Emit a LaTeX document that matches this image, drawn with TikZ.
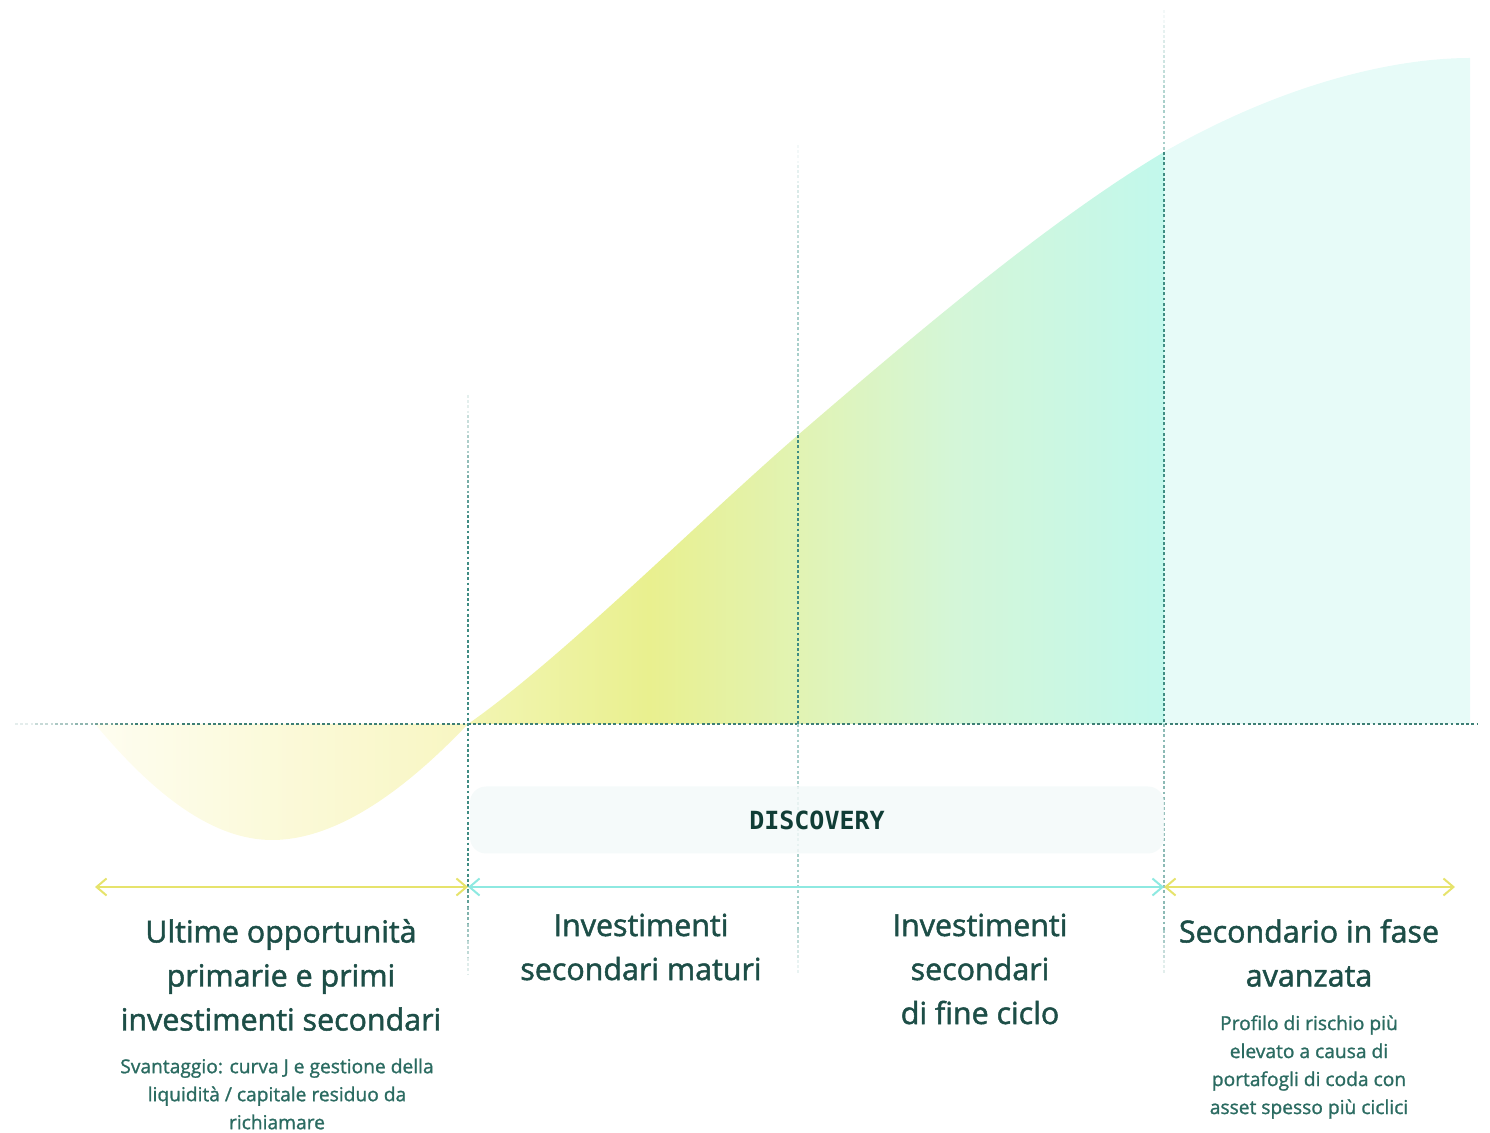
\documentclass[tikz,border=0pt]{standalone}
\usepackage{fontspec}
\setmainfont{Open Sans}
\newfontfamily\headfont{Open Sans}[FakeBold=1.6]
\newfontfamily\notefont{Open Sans}[FakeBold=1.2]
\newfontfamily\discofont{DejaVu Sans Mono}
\usetikzlibrary{arrows.meta,positioning}

\definecolor{headgreen}{HTML}{1D4E47}
\definecolor{notegreen}{HTML}{2B6B61}
\definecolor{discogreen}{HTML}{103D36}
\definecolor{guideteal}{HTML}{3F8C83}
\definecolor{guidelight}{HTML}{A8CFCA}
\definecolor{baseteal}{HTML}{3D7F75}
\definecolor{arrowyellow}{HTML}{E6E36C}
\definecolor{arrowcyan}{HTML}{8EE9E1}
\definecolor{dipA}{HTML}{FEFDF0}
\definecolor{dipB}{HTML}{F8F6C2}
\definecolor{riseA}{HTML}{F2F5B3}
\definecolor{riseB}{HTML}{E9F08F}
\definecolor{riseC}{HTML}{E1F3B4}
\definecolor{riseD}{HTML}{D4F6D8}
\definecolor{riseE}{HTML}{C2F8EC}
\definecolor{tailmint}{HTML}{E7FBF8}
\definecolor{discofill}{HTML}{F3F9F9}

% left-right colour run of the rising part (25bp = x 468, 75bp = x 1164)
\pgfdeclarehorizontalshading{risefill}{100bp}{color(0bp)=(riseA); color(25bp)=(riseA);
  color(38bp)=(riseB); color(49bp)=(riseC); color(60bp)=(riseD); color(75bp)=(riseE); color(100bp)=(riseE)}

\begin{document}
\begin{tikzpicture}[x=0.5pt, y=-0.5pt,
    head/.style={align=center, font=\headfont\fontsize{15.2}{22}\selectfont, text=headgreen},
    note/.style={align=center, font=\notefont\fontsize{9.6}{14}\selectfont, text=notegreen},
    guide/.style={line width=0.75pt, dash pattern=on 1.4pt off 1.2pt, draw=guideteal},
    lightguide/.style={guide, draw=guidelight},
    discobox/.style={rounded corners=8pt, fill=discofill, fill opacity=0.85, text opacity=1,
      minimum width=347pt, minimum height=33.5pt, font=\discofont\bfseries\fontsize{12.5}{14}\selectfont, text=discogreen},
    barb/.style={line width=1pt, {Straight Barb[length=5pt,width=8.5pt]}-{Straight Barb[length=5pt,width=8.5pt]}},
    yarr/.style={barb, draw=arrowyellow},
    carr/.style={barb, draw=arrowcyan}
]
\useasboundingbox (0,0) rectangle (1490,1133);

% curve fills
\shade[left color=dipA, right color=dipB]
  (95,724) .. controls (150,790) and (210,840) .. (272,840)
  .. controls (340,840) and (410,785) .. (468,724) -- cycle;
\shade[shading=risefill]
  (468,724) .. controls (560,660) and (700,520) .. (798,435)
  .. controls (920,330) and (1050,220) .. (1164,152) -- (1164,724) -- cycle;
\fill[tailmint]
  (1164,152) .. controls (1290,80) and (1400,58) .. (1470,58) -- (1470,724) -- (1164,724) -- cycle;

% baseline
\foreach \k in {1,...,6}
  \draw[guide, draw=baseteal, draw opacity=\k/7] ({15+(\k-1)*20},724) -- ({15+\k*20},724);
\draw[guide, draw=baseteal] (135,724) -- (1478,724);

% vertical guides
\foreach \k in {1,...,6}
  \draw[guide, draw opacity=\k/7] (468,{395+(\k-1)*20}) -- (468,{395+\k*20});
\draw[guide] (468,515) -- (468,890);
\foreach \k in {1,...,5}
  \draw[guide, draw opacity=1-\k/6] (468,{890+(\k-1)*17}) -- (468,{890+\k*17});

\foreach \k in {1,...,6}
  \draw[lightguide, draw opacity=\k/7] (798,{145+(\k-1)*20}) -- (798,{145+\k*20});
\draw[lightguide] (798,265) -- (798,435);
\draw[guide] (798,435) -- (798,724);
\draw[lightguide] (798,724) -- (798,930);
\foreach \k in {1,...,3}
  \draw[lightguide, draw opacity=1-\k/4] (798,{930+(\k-1)*15}) -- (798,{930+\k*15});

\foreach \k in {1,...,6}
  \draw[lightguide, draw opacity=\k/7] (1164,{10+(\k-1)*15}) -- (1164,{10+\k*15});
\draw[lightguide] (1164,100) -- (1164,152);
\draw[guide] (1164,152) -- (1164,724);
\draw[guide, draw=guideteal!60] (1164,724) -- (1164,930);
\foreach \k in {1,...,3}
  \draw[guide, draw=guideteal!60, draw opacity=1-\k/4] (1164,{930+(\k-1)*15}) -- (1164,{930+\k*15});

% discovery band
\node[discobox] (disc) at (817,820) {DISCOVERY};

% phase arrows
\coordinate (p0) at (95,887);
\coordinate (p1) at (468,887);
\coordinate (p2) at (1164,887);
\coordinate (p3) at (1455,887);
\draw[yarr] (p0) -- (p1);
\draw[carr] (p1) -- (p2);
\draw[yarr] (p2) -- (p3);

% phase labels
\node[head] (early) at (281,975) {Ultime opportunità\\primarie e primi\\investimenti secondari};
\node[note] (earlynote) at (277,1094) {Svantaggio: curva J e gestione della\\liquidità / capitale residuo da\\richiamare};
\node[head] (mature) at (641,947) {Investimenti\\secondari maturi};
\node[head] (endcycle) at (980,969) {Investimenti\\secondari\\di fine ciclo};
\node[head] (late) at (1309,953) {Secondario in fase\\avanzata};
\node[note] (latenote) at (1309,1067) {Profilo di rischio più\\elevato a causa di\\portafogli di coda con\\asset spesso più ciclici};
\end{tikzpicture}
\end{document}
